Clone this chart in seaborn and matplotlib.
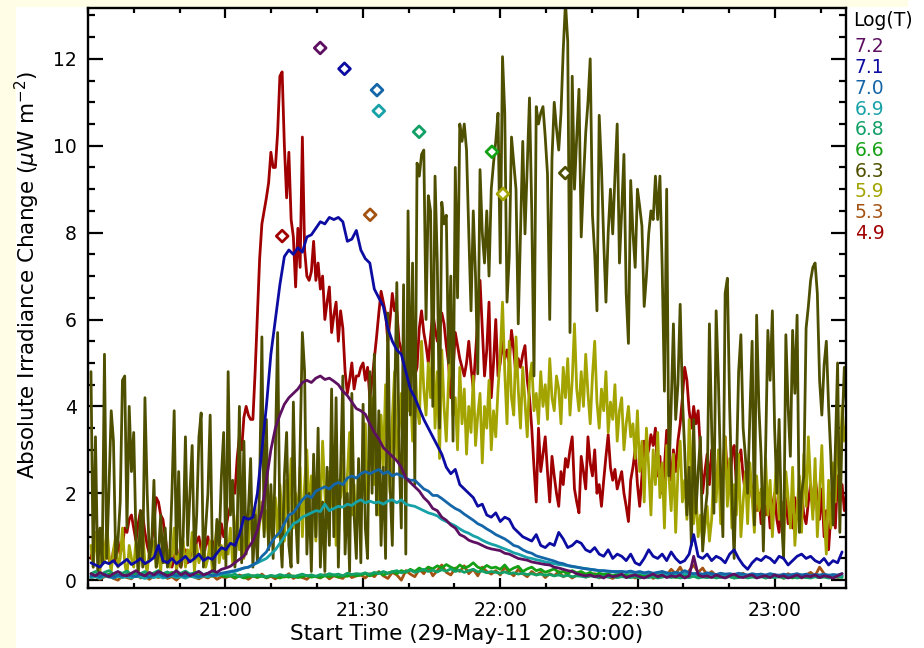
import numpy as np
import pandas as pd
import matplotlib
matplotlib.use("Agg")
import matplotlib.pyplot as plt
import seaborn as sns
from matplotlib.patches import Rectangle
from matplotlib.ticker import MultipleLocator, FixedLocator

# ---------------- data (minutes after 20:30:00, uW m^-2) ----------------
temps = ["7.2", "7.1", "7.0", "6.9", "6.8", "6.6", "6.3", "5.9", "5.3", "4.9"]
colors = ["#5e1060", "#0c0ca2", "#1466a8", "#17a2a8", "#12a066", "#14a014",
          "#4f4f00", "#a4a400", "#a45212", "#a00000"]

tick_pos = [30, 60, 90, 120, 150]
tick_labels = ["21:00", "21:30", "22:00", "22:30", "23:00"]

# time of each diamond (peak) and its plotted level
peak_time = [50.7, 56.0, 63.1, 63.5, 72.3, 88.2, 104.2, 90.6, 61.6, 42.4]
peak_level = [12.25, 11.77, 11.28, 10.80, 10.32, 9.86, 9.37, 8.89, 8.41, 7.92]

T0 = 0.65          # first sample
DT_SLOW = 0.982    # minutes between samples, smooth channels
DT_FAST = 0.491    # minutes between samples, noisy channels

f72 = [0.15,0.10,0.18,0.12,0.08,0.15,0.20,0.12,0.10,0.16,0.22,0.14,0.10,0.18,0.12,
       0.20,0.15,0.10,0.14,0.22,0.12,0.18,0.10,0.15,0.20,0.12,0.16,0.22,0.18,0.25,
       0.28,0.32,0.40,0.48,0.55,0.75,0.90,1.15,1.60,2.30,3.00,3.50,3.80,4.05,4.20,
       4.30,4.40,4.55,4.60,4.55,4.65,4.70,4.62,4.65,4.58,4.50,4.35,4.25,4.10,3.95,
       3.90,3.82,3.60,3.40,3.25,3.05,2.95,2.85,2.75,2.60,2.35,2.25,2.15,2.05,1.90,
       1.80,1.65,1.60,1.45,1.38,1.27,1.20,1.05,1.00,0.92,0.88,0.85,0.80,0.75,0.72,
       0.70,0.68,0.62,0.60,0.55,0.50,0.48,0.46,0.42,0.40,0.38,0.36,0.35,0.30,0.28,
       0.25,0.22,0.20,0.15,0.12,0.10,0.12,0.08,0.10,0.05,0.12,0.08,0.10,0.14,0.06,
       0.10,0.12,0.08,0.05,0.10,0.14,0.08,0.12,0.06,0.10,0.08,0.12,0.05,0.10,0.55,
       0.12,0.08,0.10,0.06,0.12,0.08,0.05,0.10,0.14,0.08,0.06,0.10,0.12,0.05,0.08,
       0.10,0.06,0.12,0.08,0.10,0.05,0.08,0.12,0.06,0.10,0.08,0.12,0.06,0.10,0.08,0.05,0.10,0.15]

f71 = [0.40,0.35,0.30,0.42,0.38,0.45,0.32,0.40,0.48,0.36,0.42,0.50,0.38,0.44,0.52,
       0.80,0.45,0.40,0.50,0.38,0.46,0.55,0.42,0.50,0.60,0.45,0.52,0.48,0.62,0.75,
       0.70,0.85,0.80,1.05,1.45,1.40,1.45,2.00,3.00,4.00,5.20,6.00,6.80,7.45,7.60,
       7.50,7.65,7.55,7.90,7.95,8.10,8.25,8.20,8.35,8.30,8.35,8.25,7.80,7.85,8.05,
       7.60,7.40,7.30,6.70,6.50,6.30,5.80,5.50,5.30,5.20,4.80,4.40,4.20,3.95,3.70,
       3.50,3.30,3.10,2.90,2.60,2.45,2.55,2.20,2.10,2.00,1.90,1.70,1.75,1.50,1.45,
       1.55,1.35,1.45,1.40,1.20,1.10,1.00,0.95,0.90,1.05,0.80,0.75,0.85,0.80,1.10,
       0.95,0.75,0.80,0.90,0.85,0.70,0.65,0.75,0.60,0.55,0.70,0.50,0.60,0.55,0.45,
       0.60,0.40,0.35,0.50,0.70,0.55,0.50,0.60,0.45,0.65,0.50,0.40,0.45,0.60,1.05,
       0.55,0.50,0.60,0.45,0.55,0.50,0.40,0.60,0.70,0.50,0.35,0.25,0.40,0.50,0.45,
       0.55,0.50,0.40,0.55,0.50,0.35,0.45,0.55,0.60,0.50,0.55,0.45,0.40,0.50,0.35,0.45,0.40,0.65]

f70 = [0.10,0.12,0.08,0.14,0.10,0.06,0.12,0.09,0.13,0.10,0.08,0.14,0.11,0.07,0.12,
       0.15,0.10,0.08,0.13,0.10,0.12,0.09,0.14,0.11,0.08,0.12,0.15,0.10,0.13,0.16,
       0.18,0.20,0.22,0.25,0.28,0.30,0.35,0.42,0.55,0.65,0.85,1.00,1.10,1.30,1.50,
       1.55,1.70,1.85,1.95,1.90,2.05,2.10,2.15,2.10,2.20,2.25,2.20,2.35,2.40,2.35,
       2.45,2.50,2.45,2.50,2.55,2.45,2.50,2.40,2.45,2.40,2.35,2.30,2.30,2.20,2.10,
       2.05,1.95,1.95,1.88,1.80,1.72,1.65,1.60,1.52,1.45,1.38,1.30,1.25,1.18,1.12,
       1.05,1.00,0.95,0.88,0.80,0.77,0.70,0.65,0.62,0.56,0.53,0.50,0.47,0.44,0.40,
       0.38,0.34,0.32,0.30,0.28,0.26,0.25,0.24,0.22,0.22,0.21,0.20,0.20,
       0.20,0.19,0.21,0.18,0.20,0.17,0.19,0.16,0.18,0.20,0.17,0.15,0.18,0.16,0.22,
       0.17,0.15,0.16,0.14,0.17,0.15,0.13,0.16,0.14,0.15,0.13,0.16,0.14,0.12,0.15,
       0.13,0.14,0.12,0.15,0.13,0.11,0.14,0.12,0.13,0.15,0.12,0.14,0.11,0.13,0.12,
       0.14,0.11,0.13,0.12,0.15]

f69 = [0.06,0.08,0.04,0.10,0.07,0.05,0.09,0.06,0.08,0.05,0.10,0.07,0.04,0.08,0.06,
       0.09,0.05,0.07,0.10,0.06,0.08,0.05,0.09,0.07,0.06,0.10,0.08,0.12,0.10,0.14,
       0.16,0.18,0.20,0.24,0.28,0.30,0.35,0.40,0.45,0.50,0.60,0.70,0.85,1.00,1.15,
       1.30,1.35,1.45,1.50,1.55,1.60,1.58,1.75,1.60,1.65,1.70,1.68,1.75,1.72,1.80,
       1.85,1.78,1.82,1.78,1.80,1.75,1.82,1.85,1.78,1.85,1.75,1.72,1.70,1.65,1.60,
       1.55,1.52,1.48,1.40,1.35,1.30,1.25,1.18,1.12,1.08,1.02,0.98,0.92,0.87,0.83,
       0.80,0.76,0.72,0.68,0.63,0.60,0.56,0.52,0.50,0.47,0.45,0.42,0.40,0.38,0.36,
       0.35,0.33,0.31,0.30,0.28,0.27,0.25,0.23,0.22,0.21,0.20,
       0.19,0.18,0.20,0.17,0.18,0.16,0.17,0.15,0.16,0.14,0.17,0.15,0.13,0.16,0.14,
       0.12,0.15,0.13,0.14,0.12,0.11,0.14,0.12,0.13,0.11,0.12,0.10,0.13,0.11,0.12,
       0.10,0.11,0.09,0.12,0.10,0.11,0.09,0.10,0.12,0.09,0.11,0.10,0.08,0.11,0.09,
       0.10,0.08,0.10,0.12,0.09,0.10,0.11]

f68 = [0.15,0.20,0.12,0.18,0.22,0.14,0.19,0.16,0.21,0.13,0.18,0.15,0.20,0.12,0.17,
       0.22,0.15,0.19,0.13,0.18,0.16,0.21,0.14,0.17,0.20,0.13,0.16,0.19,0.12,0.15,
       0.12,0.10,0.14,0.08,0.11,0.13,0.09,0.12,0.10,0.08,0.11,0.09,0.13,0.10,0.12,
       0.08,0.11,0.14,0.10,0.12,0.09,0.13,0.11,0.15,0.12,0.14,0.10,0.16,0.13,0.15,
       0.14,0.17,0.13,0.18,0.15,0.20,0.16,0.19,0.22,0.17,0.20,0.23,0.18,0.21,0.25,
       0.20,0.23,0.19,0.24,0.21,0.26,0.20,0.23,0.18,0.22,0.25,0.19,0.21,0.17,0.20,
       0.18,0.16,0.19,0.15,0.17,0.14,0.16,0.13,0.15,0.12,0.14,0.11,0.13,0.10,0.12,
       0.09,0.11,0.08,0.10,0.09,0.07,0.10,0.08,0.06,0.09,0.07,0.08,0.06,0.08,0.07,
       0.06,0.08,0.05,0.07,0.06,0.08,0.05,0.07,0.09,0.06,0.08,0.05,0.07,0.06,0.09,
       0.05,0.07,0.06,0.08,0.05,0.07,0.06,0.08,0.05,0.06,0.08,0.05,0.07,0.06,0.08,
       0.05,0.07,0.06,0.08,0.05,0.06,0.08,0.05,0.07,0.06,0.05,0.08,0.06,0.07,0.05,0.06,0.08,0.06]

f66 = [0.08,0.12,0.06,0.10,0.14,0.09,0.12,0.07,0.11,0.15,0.10,0.08,0.13,0.11,0.16,
       0.12,0.09,0.14,0.18,0.12,0.10,0.15,0.11,0.08,0.13,0.10,0.12,0.09,0.14,0.11,
       0.08,0.10,0.06,0.09,0.05,0.08,0.10,0.07,0.09,0.06,0.10,0.08,0.05,0.09,0.07,
       0.10,0.06,0.08,0.11,0.07,0.09,0.06,0.10,0.08,0.12,0.07,0.10,0.09,0.13,0.10,
       0.12,0.15,0.10,0.14,0.18,0.12,0.16,0.20,0.15,0.22,0.18,0.25,0.20,0.28,0.22,
       0.30,0.26,0.33,0.28,0.36,0.30,0.25,0.35,0.28,0.32,0.40,0.30,0.26,0.34,0.28,
       0.30,0.25,0.35,0.22,0.28,0.32,0.20,0.26,0.30,0.22,0.25,0.18,0.22,0.26,0.18,
       0.20,0.15,0.22,0.17,0.20,0.14,0.18,0.12,0.16,0.13,0.15,0.10,0.14,0.12,0.11,
       0.10,0.08,0.12,0.09,0.11,0.07,0.10,0.12,0.08,0.10,0.06,0.09,0.11,0.07,0.10,
       0.08,0.12,0.06,0.09,0.10,0.07,0.11,0.08,0.06,0.10,0.09,0.07,0.11,0.08,0.10,
       0.06,0.09,0.11,0.07,0.10,0.08,0.05,0.09,0.12,0.07,0.10,0.08,0.06,0.10,0.09,0.07,0.11,0.08]

f53 = [0.05,0.10,0.02,0.08,0.12,0.04,0.00,0.10,0.06,0.03,0.15,0.05,0.08,0.02,0.10,
       0.06,0.12,0.04,0.08,0.00,0.10,0.05,0.14,0.07,0.03,0.09,0.05,0.12,0.02,0.08,
       0.06,0.10,0.04,0.12,0.08,0.02,0.10,0.06,0.14,0.05,0.09,0.03,0.11,0.07,0.15,
       0.04,0.10,0.06,0.02,0.12,0.08,0.05,0.13,0.03,0.10,0.07,0.04,0.16,0.06,0.10,
       0.12,0.05,0.15,0.08,0.20,0.10,0.04,0.18,0.12,0.00,0.22,0.14,0.08,0.25,0.15,
       0.30,0.10,0.22,0.35,0.18,0.12,0.28,0.20,0.33,0.15,0.25,0.10,0.30,0.20,0.14,
       0.22,0.12,0.30,0.18,0.10,0.25,0.15,0.08,0.20,0.12,0.18,0.06,0.15,0.10,0.20,
       0.08,0.13,0.05,0.12,0.18,0.07,0.10,0.15,0.05,0.12,0.08,0.04,0.10,0.14,0.06,
       0.10,0.05,0.12,0.08,0.15,0.04,0.10,0.20,0.12,0.25,0.15,0.30,0.10,0.22,0.35,
       0.18,0.28,0.12,0.20,0.10,0.15,0.08,0.12,0.05,0.10,0.16,0.06,0.12,0.08,0.14,
       0.05,0.10,0.07,0.12,0.04,0.15,0.08,0.10,0.05,0.12,0.18,0.10,0.30,0.15,0.08,0.12,0.06,0.10]

f63 = [4.8,0.3,3.3,0.2,1.2,0.4,5.2,0.5,2.1,3.9,3.2,0.5,0.9,1.8,4.6,4.7,1.2,4.0,2.5,3.4,1.0,
       0.2,1.6,0.3,4.2,2.0,0.5,0.8,2.3,0.3,0.6,1.5,0.4,1.2,0.3,0.5,2.0,3.9,0.6,2.5,0.3,
       1.0,3.3,0.8,2.0,3.1,0.5,1.5,3.3,3.85,0.3,1.2,2.0,3.8,0.5,0.2,1.4,0.8,2.4,3.4,0.3,
       4.8,1.5,2.3,0.3,1.1,4.0,0.4,3.2,0.6,1.6,2.8,0.3,1.5,0.4,2.2,5.6,1.0,3.7,0.7,2.2,
       0.5,3.0,5.7,1.2,0.3,2.4,3.4,0.8,0.3,4.1,1.5,0.4,3.0,5.7,4.8,0.6,2.0,0.2,2.9,1.0,
       3.5,0.3,1.8,0.2,2.6,0.8,4.4,1.0,4.2,0.3,2.5,4.7,0.6,2.0,0.2,4.3,1.5,0.5,2.8,0.4,
       4.05,1.2,0.5,4.8,2.0,5.2,1.5,3.9,0.8,2.6,0.5,6.15,2.2,0.8,4.0,6.85,3.0,1.2,6.8,0.6,
       8.5,3.8,7.3,2.2,9.6,9.3,9.8,9.9,6.0,8.85,8.5,4.0,9.3,7.3,3.5,8.7,8.2,8.4,5.0,7.0,
       3.2,9.5,6.5,10.5,10.1,
       10.5,9.9,8.0,6.2,8.5,7.0,4.75,9.45,8.0,7.3,8.5,7.0,9.0,9.6,10.1,
       10.75,7.3,12.05,10.75,6.4,7.45,10.2,9.6,9.0,5.9,8.0,10.1,7.97,9.5,11.1,8.5,4.7,10.9,10.5,10.75,
       10.9,10.2,9.35,6.0,9.7,11.0,10.4,9.9,10.75,12.2,13.3,12.4,5.7,11.6,9.0,10.2,11.3,7.9,9.2,10.3,
       11.0,12.0,8.4,7.5,6.2,10.7,9.5,7.8,6.4,8.0,9.0,7.97,9.3,10.5,7.3,8.5,9.8,6.6,5.45,9.2,
       8.0,7.2,9.0,8.6,8.15,6.3,7.0,7.97,8.5,8.3,9.3,
       8.3,9.3,7.2,4.35,9.0,2.4,4.0,5.9,3.7,4.5,6.35,4.2,3.0,1.5,2.6,0.8,3.7,1.54,2.5,3.3,
       0.67,1.5,2.0,5.9,3.5,1.54,6.2,4.6,2.4,1.0,6.6,6.95,4.0,2.0,0.5,2.5,4.8,5.65,3.5,2.85,
       2.0,3.8,5.5,1.27,6.1,4.0,2.85,0.67,3.0,5.75,4.6,6.2,3.5,2.0,3.7,1.5,0.5,5.65,4.0,2.85,
       5.75,4.3,6.1,1.1,2.0,2.4,5.8,6.3,6.9,7.2,7.3,6.6,4.6,3.8,4.95,5.5,4.0,2.85,1.27,3.0,
       5.0,1.1,3.5,4.9,4.0]

f59 = [0.8,0.3,1.1,0.5,0.2,0.9,0.4,1.3,0.6,0.2,0.7,1.0,0.3,0.5,1.2,0.4,0.1,0.8,0.5,0.3,
       0.9,0.2,0.6,1.1,0.4,0.2,0.7,0.5,0.9,0.3,0.6,0.2,1.0,0.4,0.7,0.3,0.5,1.2,0.2,0.6,
       0.4,0.9,0.3,0.7,0.5,1.1,0.2,0.8,0.4,0.6,1.0,0.3,0.5,0.9,0.2,0.7,1.3,0.4,0.8,0.5,1.0,
       0.6,1.2,0.4,0.9,1.5,0.7,1.1,0.5,1.4,0.8,1.6,1.0,1.7,0.9,1.3,1.8,1.1,1.6,0.8,2.0,
       1.4,1.9,1.0,2.2,1.5,0.9,2.3,1.6,2.8,1.2,
       2.0,1.4,2.6,1.0,2.2,3.0,1.5,2.4,1.8,0.9,2.7,1.6,3.2,2.0,1.2,2.5,1.7,3.1,0.8,2.3,
       1.9,2.8,1.1,2.4,3.4,1.5,2.2,0.9,2.6,1.8,
       2.5,3.6,1.8,3.0,4.2,2.2,3.3,1.5,3.8,2.6,4.5,3.0,2.0,3.7,4.8,2.8,3.5,4.3,2.4,5.0,
       3.9,4.6,3.2,5.2,4.0,3.6,5.5,4.4,3.8,5.0,
       4.2,5.7,3.5,4.8,2.8,5.3,4.0,3.2,4.6,5.5,3.8,4.2,3.0,4.9,3.6,4.4,2.9,4.0,3.4,4.7,
       3.1,3.8,4.3,2.7,4.0,3.5,4.6,3.0,3.9,3.3,
       4.4,5.2,6.4,4.8,3.6,5.5,4.2,3.8,5.6,4.4,3.5,4.9,4.1,3.3,4.6,5.0,3.9,4.3,3.6,4.8,
       4.0,4.5,3.7,5.1,4.2,3.9,4.7,4.4,3.6,4.9,
       4.2,5.1,3.8,4.6,5.9,4.4,3.9,4.8,4.0,5.2,4.3,3.6,4.7,5.5,4.1,3.5,4.4,3.9,4.8,3.4,
       4.1,3.7,4.5,3.2,3.9,4.2,3.0,3.6,4.0,3.3,
       3.6,2.8,3.9,2.5,3.2,1.8,3.5,2.6,1.5,3.0,2.2,3.4,1.9,2.7,1.2,3.1,2.4,1.6,2.9,1.1,
       2.5,3.2,1.8,2.3,1.4,3.7,2.6,1.3,2.0,1.0,
       1.5,0.8,1.2,1.7,0.9,1.4,2.6,1.8,3.0,1.3,2.4,3.3,1.7,2.8,1.2,2.2,1.5,2.9,1.0,1.8,
       2.5,1.3,2.7,1.9,1.1,2.4,1.6,2.1,1.2,2.8,
       1.5,2.3,1.0,2.0,2.9,1.4,1.8,0.7,2.5,1.9,1.2,2.6,0.8,1.6,2.4,1.1,2.9,1.7,3.3,2.2,
       1.4,2.8,1.0,2.0,3.1,1.5,0.6,2.3,1.2,2.7,1.8,3.5,2.4,4.0,3.2,3.6]

f49 = [0.5,0.8,1.1,0.7,0.9,0.4,0.6,1.0,0.5,0.3,0.7,0.4,0.9,0.6,0.8,1.2,1.1,1.4,1.5,1.2,
       0.9,1.3,1.6,1.5,1.1,0.8,0.6,0.9,1.3,1.9,1.8,1.5,1.4,1.0,0.6,0.4,0.3,0.5,0.8,0.4,
       0.3,0.6,0.7,0.4,0.5,0.8,0.6,0.9,1.0,0.7,0.5,0.8,1.0,0.6,0.9,0.7,1.1,0.8,1.3,1.0,1.2,
       1.5,1.7,2.2,2.0,2.8,3.3,3.0,3.75,4.0,3.8,3.7,3.7,4.8,6.1,7.4,8.2,8.5,8.8,9.15,9.85,
       9.5,9.5,10.3,11.6,11.7,10.0,8.8,9.85,8.3,7.9,6.75,8.1,7.2,10.2,7.6,7.0,6.9,7.1,7.8,6.9,
       7.3,6.7,7.0,6.0,6.4,6.75,5.7,6.1,6.4,5.5,6.2,5.8,4.8,4.3,4.6,5.0,4.4,4.7,4.7,4.9,
       5.0,4.6,4.9,4.2,4.6,5.1,5.6,6.15,6.65,6.4,6.15,5.5,6.0,6.6,6.2,6.2,5.5,5.3,5.0,4.8,
       4.6,4.9,5.2,4.7,4.9,5.8,6.2,5.7,5.4,5.0,5.6,6.15,5.8,5.5,5.9,6.15,5.9,5.4,5.0,4.2,
       4.8,5.7,5.4,5.1,4.9,4.7,5.0,5.5,4.9,4.4,5.2,6.0,6.9,5.8,4.7,5.3,6.4,4.2,5.0,6.0,
       4.7,5.0,5.5,5.1,5.3,5.0,5.75,5.3,4.7,5.1,4.9,5.2,5.4,4.6,4.2,3.5,2.6,1.8,3.5,2.5,
       2.9,3.3,2.5,1.8,2.85,2.4,2.0,1.7,2.5,2.2,2.8,2.6,3.0,3.3,2.1,1.8,1.55,2.85,2.5,2.1,
       3.3,2.7,2.4,3.0,2.0,2.2,1.7,2.3,2.85,3.35,2.6,2.3,2.55,2.1,2.3,2.5,2.0,1.7,1.35,2.3,
       2.6,3.0,2.2,1.7,2.4,3.2,2.8,3.0,3.35,3.1,3.5,2.4,2.85,2.0,2.6,3.45,2.9,2.3,3.0,2.5,
       3.2,3.6,4.2,4.9,4.6,3.9,3.5,4.0,3.6,3.9,3.0,2.0,2.5,2.9,2.2,3.0,2.5,2.0,2.8,2.3,
       2.6,3.3,2.4,2.0,2.9,3.1,2.2,2.7,3.0,2.4,2.0,2.6,2.45,1.9,2.2,1.6,2.0,1.3,1.8,1.5,
       1.9,1.2,1.7,2.0,1.4,1.1,1.8,1.5,1.9,1.3,1.6,1.2,1.9,1.4,1.7,2.0,1.5,1.3,1.8,2.2,
       1.6,2.4,1.9,1.4,2.1,1.0,1.6,0.7,1.5,2.0,1.2,2.4,1.8,2.2,1.6,2.0]

series = {"7.2": (f72, DT_SLOW), "7.1": (f71, DT_SLOW), "7.0": (f70, DT_SLOW),
          "6.9": (f69, DT_SLOW), "6.8": (f68, DT_SLOW), "6.6": (f66, DT_SLOW),
          "6.3": (f63, DT_FAST), "5.9": (f59, DT_FAST), "5.3": (f53, DT_SLOW),
          "4.9": (f49, DT_FAST)}

rows = []
for k, (vals, dt) in series.items():
    t = T0 + dt * np.arange(len(vals))
    rows.append(pd.DataFrame({"time": t, "flux": vals, "logT": k}))
df = pd.concat(rows, ignore_index=True)

palette = dict(zip(temps, colors))
draw_order = temps[::-1]  # low temperatures drawn first

# ---------------- figure ----------------
sns.set_theme(style="ticks", rc={"axes.edgecolor": "black", "axes.linewidth": 1.7,
                                 "xtick.color": "black", "ytick.color": "black",
                                 "axes.labelcolor": "black", "text.color": "black"})
plt.rcParams["font.family"] = ["DejaVu Sans"]

W, H = 924, 648
fig = plt.figure(figsize=(W / 100, H / 100), dpi=100)
fig.patch.set_facecolor("white")
yellow = "#fffde6"
fig.add_artist(Rectangle((0, 0), 16 / W, 1, transform=fig.transFigure,
                         facecolor=yellow, edgecolor="none", zorder=-10))
fig.add_artist(Rectangle((0, 1 - 7 / H), 908 / W, 7 / H, transform=fig.transFigure,
                         facecolor=yellow, edgecolor="none", zorder=-10))

ax = fig.add_axes([88 / W, 1 - 588 / H, (846 - 88) / W, (588 - 8) / H])
ax.set_facecolor("white")

sns.lineplot(data=df, x="time", y="flux", hue="logT", hue_order=draw_order,
             palette=palette, estimator=None, sort=False, linewidth=2.0,
             legend=False, ax=ax)

ax.scatter(peak_time, peak_level, marker="D", s=36, facecolors="white",
           edgecolors=colors, linewidths=2.0, zorder=6)

ax.set_xlim(0, 165.5)
ax.set_ylim(-0.18, 13.17)
ax.xaxis.set_major_locator(FixedLocator(tick_pos))
ax.set_xticklabels(tick_labels)
ax.xaxis.set_minor_locator(MultipleLocator(10))
ax.yaxis.set_major_locator(MultipleLocator(2))
ax.yaxis.set_minor_locator(MultipleLocator(0.5))

ax.tick_params(axis="x", which="major", direction="in", length=7.5, width=1.6,
               top=True, bottom=True, labelsize=13.5, pad=9, labelcolor="black")
ax.tick_params(axis="x", which="minor", direction="in", length=3.8, width=1.6,
               top=True, bottom=True)
ax.tick_params(axis="y", which="major", direction="in", length=10.5, width=1.6,
               left=True, right=True, labelsize=13.5, pad=8, labelcolor="black")
ax.tick_params(axis="y", which="minor", direction="in", length=5, width=1.6,
               left=True, right=True)

ax.set_xlabel("Start Time (29-May-11 20:30:00)", fontsize=15.5, color="black")
ax.set_ylabel(r"Absolute Irradiance Change ($\mu$W m$^{-2}$)", fontsize=15.5,
              color="black")
ax.xaxis.set_label_coords(0.5, -0.062)
ax.yaxis.set_label_coords(-0.061, 0.54)

# temperature key on the right
fig.text(853 / W, 1 - 20 / H, "Log(T)", fontsize=13.5, color="black",
         ha="left", va="center")
for i, (lab, col) in enumerate(zip(temps, colors)):
    fig.text(855 / W, 1 - (47 + 20.7 * i) / H, lab, fontsize=13.5, color=col,
             ha="left", va="center")

fig.savefig("out.png", dpi=100, facecolor=fig.get_facecolor())
